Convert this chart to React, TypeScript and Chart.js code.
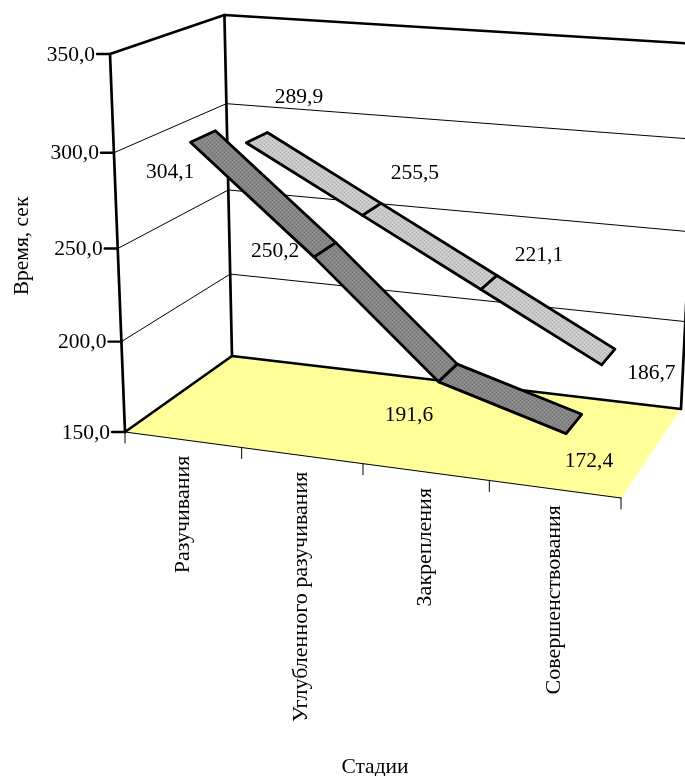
import React, { useEffect, useRef } from "react";
import { Chart, registerables } from "chart.js";

Chart.register(...registerables);

const categories = ["Разучивания", "Углубленного разучивания", "Закрепления", "Совершенствования"];
const fastSeries = [304.1, 250.2, 191.6, 172.4];
const trendSeries = [289.9, 255.5, 221.1, 186.7];
const yMin = 150;
const yMax = 350;
const yStep = 50;
const yTitle = "Время, сек";
const xTitle = "Стадии";

// Screen positions of the six visible corners of the 3D box (camera set-up, not data).
const O = [125, 432], X = [621, 498], Y = [110, 54], Z = [232, 356], XZ = [681, 409], YZ = [224, 15];
const FONT = '"Liberation Serif", serif';
const TEXT_PX = 21.5;
const CATEGORY_PX = 22;
const fmt = (v: number) => v.toFixed(1).replace(".", ",");

function solveCamera() {
  const a = X[0] - XZ[0], b = Z[0] - XZ[0], c = O[0] - XZ[0];
  const d = X[1] - XZ[1], e = Z[1] - XZ[1], f = O[1] - XZ[1];
  const det = a * e - b * d;
  const ax = (c * e - b * f) / det;
  const az = (a * f - c * d) / det;
  const ay = ((O[1] - YZ[1]) - az * (Z[1] - YZ[1])) / (Y[1] - YZ[1]);
  return { ax, ay, az };
}
const cam = solveCamera();
function project(u: number, v: number, w: number): [number, number] {
  const h = 1 + u * (cam.ax - 1) + v * (cam.ay - 1) + w * (cam.az - 1);
  const px = O[0] + u * (cam.ax * X[0] - O[0]) + v * (cam.ay * Y[0] - O[0]) + w * (cam.az * Z[0] - O[0]);
  const py = O[1] + u * (cam.ax * X[1] - O[1]) + v * (cam.ay * Y[1] - O[1]) + w * (cam.az * Z[1] - O[1]);
  return [px / h, py / h];
}

function makePattern(ctx: CanvasRenderingContext2D, base: string, dot: string, lite: string) {
  const c = document.createElement("canvas");
  c.width = 4;
  c.height = 4;
  const g = c.getContext("2d")!;
  g.fillStyle = base;
  g.fillRect(0, 0, 4, 4);
  g.fillStyle = dot;
  g.fillRect(0, 0, 1, 1);
  g.fillRect(2, 2, 1, 1);
  g.fillStyle = lite;
  g.fillRect(2, 0, 1, 1);
  g.fillRect(0, 2, 1, 1);
  return ctx.createPattern(c, "repeat")!;
}

const ribbons = [
  { dataset: 1, w0: 0.645, w1: 0.855, base: "#c8c8c8", dot: "#b0b0b0", lite: "#d4d4d4", labelOffsets: [[42, -40], [43, -36], [50, -27], [43, 16]] },
  { dataset: 0, w0: 0.14, w1: 0.36, base: "#868686", dot: "#707070", lite: "#949494", labelOffsets: [[-33, 36], [-50, 2], [-39, 42], [15, 38]] },
];

const box3d = {
  id: "box3d",
  afterDatasetsDraw(chart: any) {
    const ctx: CanvasRenderingContext2D = chart.ctx;
    const { left, bottom, width, height } = chart.chartArea;
    const toU = (x: number) => (x - left) / width;
    const toV = (y: number) => (bottom - y) / height;
    const yScale = chart.scales.y;
    const line = (pts: [number, number][], lw: number) => {
      ctx.beginPath();
      pts.forEach((p, i) => (i ? ctx.lineTo(p[0], p[1]) : ctx.moveTo(p[0], p[1])));
      ctx.lineWidth = lw;
      ctx.strokeStyle = "#000";
      ctx.stroke();
    };
    ctx.save();
    ctx.lineJoin = "round";
    ctx.lineCap = "round";

    // floor
    ctx.beginPath();
    [project(0, 0, 0), project(1, 0, 0), project(1, 0, 1), project(0, 0, 1)].forEach((p, i) =>
      i ? ctx.lineTo(p[0], p[1]) : ctx.moveTo(p[0], p[1])
    );
    ctx.closePath();
    ctx.fillStyle = "#FFFF99";
    ctx.fill();

    // gridlines and value ticks
    ctx.font = `${TEXT_PX}px ${FONT}`;
    ctx.fillStyle = "#000";
    ctx.textBaseline = "middle";
    yScale.ticks.forEach((t: any) => {
      const v = toV(yScale.getPixelForValue(t.value));
      const a = project(0, v, 0), b = project(0, v, 1), c = project(1, v, 1);
      if (v > 0.001 && v < 0.999) line([a, b, c], 1);
      line([[a[0] - 13, a[1]], a], 2.4);
      ctx.textAlign = "right";
      ctx.fillStyle = "#000";
      ctx.fillText(String(t.label), a[0] - 15, a[1] + 1);
    });

    // box edges
    line([project(0, 0, 0), project(0, 1, 0), project(0, 1, 1), project(1, 1, 1)], 2.7);
    line([project(0, 0, 1), project(0, 1, 1)], 2.7);
    line([project(0, 0, 0), project(0, 0, 1), project(1, 0, 1), project(1, 1, 1)], 2.7);
    line([project(0, 0, 0), project(1, 0, 0)], 1.2);

    // category ticks and labels
    categories.forEach((_, i) => {
      const p = project(i / 4, 0, 0);
      line([p, [p[0], p[1] + 11]], 1);
    });
    const endP = project(1, 0, 0);
    line([endP, [endP[0], endP[1] + 11]], 1);
    const xMeta = chart.getDatasetMeta(0).data;
    categories.forEach((name, i) => {
      const p = project(toU(xMeta[i].x), 0, 0);
      ctx.save();
      ctx.translate(p[0], p[1] + 16);
      ctx.rotate(-Math.PI / 2);
      ctx.textAlign = "right";
      ctx.textBaseline = "middle";
      ctx.fillStyle = "#000";
      ctx.font = `${CATEGORY_PX}px ${FONT}`;
      ctx.fillText(name, 0, 0);
      ctx.restore();
    });

    // ribbons
    ribbons.forEach((r) => {
      const pts = chart.getDatasetMeta(r.dataset).data;
      const fill = makePattern(ctx, r.base, r.dot, r.lite);
      for (let i = 0; i < pts.length - 1; i++) {
        const u0 = toU(pts[i].x), v0 = toV(pts[i].y), u1 = toU(pts[i + 1].x), v1 = toV(pts[i + 1].y);
        const q = [project(u0, v0, r.w0), project(u1, v1, r.w0), project(u1, v1, r.w1), project(u0, v0, r.w1)];
        ctx.beginPath();
        q.forEach((p, k) => (k ? ctx.lineTo(p[0], p[1]) : ctx.moveTo(p[0], p[1])));
        ctx.closePath();
        ctx.fillStyle = fill;
        ctx.fill();
        ctx.lineWidth = 2.8;
        ctx.strokeStyle = "#000";
        ctx.stroke();
      }
    });

    // value labels
    ctx.font = `${TEXT_PX}px ${FONT}`;
    ctx.textAlign = "center";
    ctx.textBaseline = "middle";
    ctx.fillStyle = "#000";
    ribbons.forEach((r) => {
      const pts = chart.getDatasetMeta(r.dataset).data;
      const vals = chart.data.datasets[r.dataset].data;
      pts.forEach((pt: any, i: number) => {
        const c = project(toU(pt.x), toV(pt.y), (r.w0 + r.w1) / 2);
        ctx.fillText(fmt(vals[i]), c[0] + r.labelOffsets[i][0], c[1] + r.labelOffsets[i][1]);
      });
    });

    // axis titles
    ctx.fillText(xTitle, 375, 767);
    ctx.save();
    ctx.translate(22, 246);
    ctx.rotate(-Math.PI / 2);
    ctx.fillText(yTitle, 0, 0);
    ctx.restore();
    ctx.restore();
  },
};

export default function App() {
  const ref = useRef<HTMLCanvasElement>(null);
  useEffect(() => {
    document.body.style.margin = "0";
    const chart = new Chart(ref.current!, {
      type: "line",
      data: {
        labels: categories,
        datasets: [
          { label: "Series 1", data: fastSeries, borderColor: "rgba(0,0,0,0)", pointRadius: 0, borderWidth: 0 },
          { label: "Series 2", data: trendSeries, borderColor: "rgba(0,0,0,0)", pointRadius: 0, borderWidth: 0 },
        ],
      },
      options: {
        responsive: false,
        animation: false,
        layout: { padding: 0 },
        plugins: { legend: { display: false }, tooltip: { enabled: false } },
        scales: {
          x: { type: "category", offset: true, display: false },
          y: {
            type: "linear",
            min: yMin,
            max: yMax,
            display: false,
            ticks: { stepSize: yStep, callback: (v: any) => fmt(Number(v)) },
          },
        },
      },
      plugins: [box3d],
    } as any);
    return () => chart.destroy();
  }, []);
  return <canvas ref={ref} width={685} height={776} style={{ display: "block", background: "#fff" }} />;
}
